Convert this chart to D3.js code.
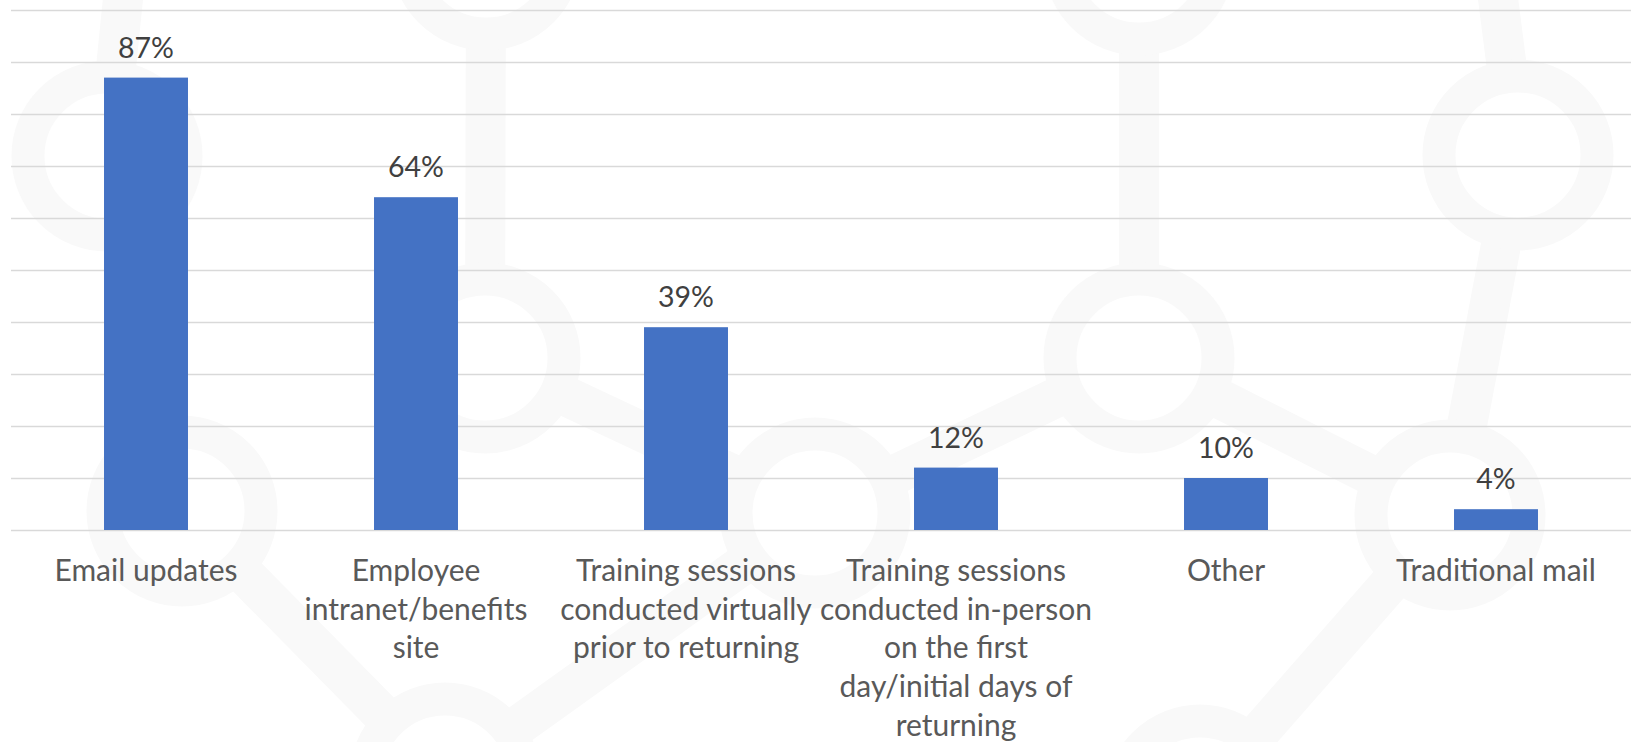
<!DOCTYPE html>
<html>
<head>
<meta charset="utf-8">
<script src="https://cdn.jsdelivr.net/npm/d3@7"></script>
<style>
  html, body { margin: 0; padding: 0; background: #fff; }
  svg { display: block; }
</style>
</head>
<body>
<svg id="chart" width="1632" height="742"></svg>
<script>
// chart data
const categories = [
    "Email updates",
    "Employee intranet/benefits site",
    "Training sessions conducted virtually prior to returning",
    "Training sessions conducted in-person on the first day/initial days of returning",
    "Other",
    "Traditional mail"
];
const values = [0.87, 0.64, 0.39, 0.12, 0.10, 0.04];
const labelLines = [
    ["Email updates"],
    ["Employee", "intranet/benefits", "site"],
    ["Training sessions", "conducted virtually", "prior to returning"],
    ["Training sessions", "conducted in-person", "on the first", "day/initial days of", "returning"],
    ["Other"],
    ["Traditional mail"]
];
const gridTicks = d3.range(0, 1.01, 0.1);

// faint background watermark (rings joined by thick lines)
const decorNodes = {
    F: [107, 156], G: [182, 511], J: [445, 778], H: [486, -45], I: [485, 358],
    D: [815, 513], A2: [1139, -40], A: [1139, 358], R: [1518, 155], C: [1450, 515],
    M: [1200, 800], topF: [131, -80], topR: [1488, -80]
};
const decorLinks = [
    ["H", "I"], ["I", "D"], ["D", "A"], ["A2", "A"], ["A", "C"], ["R", "C"],
    ["R", "topR"], ["C", "M"], ["F", "topF"], ["F", "G"], ["G", "J"], ["J", "D"]
];
const ringNodes = ["F", "G", "J", "H", "I", "D", "A2", "A", "R", "C", "M"];

const width = 1632;
const height = 742;
const svg = d3.select("#chart");

const decor = svg.append("g").attr("class", "decor");
decor.selectAll("line")
    .data(decorLinks)
    .join("line")
    .attr("x1", (d) => decorNodes[d[0]][0])
    .attr("y1", (d) => decorNodes[d[0]][1])
    .attr("x2", (d) => decorNodes[d[1]][0])
    .attr("y2", (d) => decorNodes[d[1]][1])
    .attr("stroke", "#f9f9f9")
    .attr("stroke-width", 40);
decor.selectAll("circle")
    .data(ringNodes)
    .join("circle")
    .attr("cx", (d) => decorNodes[d][0])
    .attr("cy", (d) => decorNodes[d][1])
    .attr("r", 79)
    .attr("fill", "#fff")
    .attr("stroke", "#f9f9f9")
    .attr("stroke-width", 33);

const x = d3.scaleBand()
    .domain(categories)
    .range([11, 1631])
    .paddingInner(0.689)
    .paddingOuter(0.3445);

const y = d3.scaleLinear()
    .domain([0, 1])
    .range([530, 10]);

// gridlines
svg.append("g")
    .attr("class", "grid")
    .attr("transform", "translate(11,0)")
    .call(d3.axisLeft(y).tickValues(gridTicks).tickSize(-1620).tickFormat(""))
    .call((g) => g.select(".domain").remove())
    .call((g) => g.selectAll(".tick line").attr("stroke", "#d9d9d9").attr("stroke-width", 1.5));

// bars
svg.append("g")
    .selectAll("rect")
    .data(values)
    .join("rect")
    .attr("x", (d, i) => x(categories[i]))
    .attr("y", (d) => y(d))
    .attr("width", x.bandwidth())
    .attr("height", (d) => y(0) - y(d))
    .attr("fill", "#4472c4");

// value labels
svg.append("g")
    .selectAll("text")
    .data(values)
    .join("text")
    .attr("x", (d, i) => x(categories[i]) + x.bandwidth() / 2)
    .attr("y", (d) => y(d) - 20)
    .attr("text-anchor", "middle")
    .attr("font-family", "Lato, sans-serif")
    .attr("font-size", "28.5px")
    .attr("fill", "#404040")
    .text((d) => Math.round(d * 100) + "%");

// category axis
const xAxis = svg.append("g")
    .attr("transform", "translate(0,530)")
    .call(d3.axisBottom(x).tickSize(0).tickPadding(0))
    .call((g) => g.select(".domain").remove());

xAxis.selectAll(".tick text")
    .attr("font-family", "Lato, sans-serif")
    .attr("font-size", "30px")
    .attr("fill", "#595959")
    .attr("y", 51)
    .attr("dy", 0)
    .text(null)
    .each(function (d) {
        const lines = labelLines[categories.indexOf(d)];
        d3.select(this)
            .selectAll("tspan")
            .data(lines)
            .join("tspan")
            .attr("x", 0)
            .attr("dy", (l, i) => (i === 0 ? 0 : 38.7))
            .text((l) => l);
    });
</script>
</body>
</html>
